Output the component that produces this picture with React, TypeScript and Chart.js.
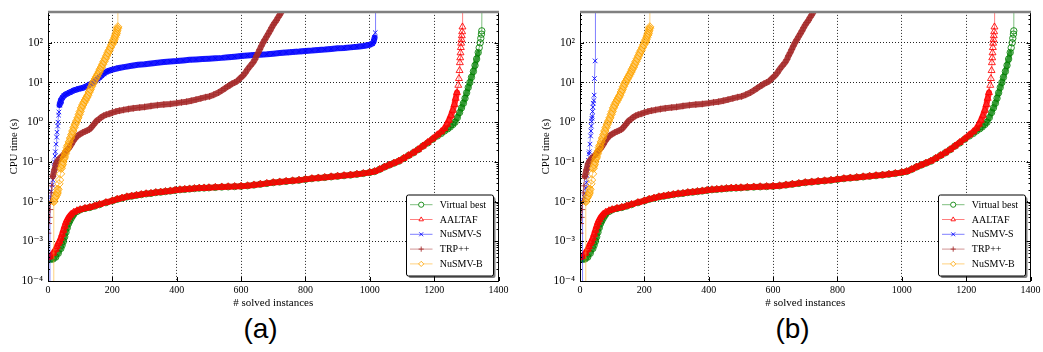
import React, { useEffect, useRef } from 'react';
import { Chart, registerables } from 'chart.js';

Chart.register(...registerables);

const SERIF = "'Liberation Serif', 'DejaVu Serif', 'Times New Roman', serif";

// ---------- tick definitions ----------
const X_TICK_VALUES = [0, 200, 400, 600, 800, 1000, 1200, 1400];
const X_TICK_LABELS = ['0', '200', '400', '600', '800', '1000', '1200', '1400'];
const Y_TICK_VALUES = [1e-4, 1e-3, 1e-2, 1e-1, 1, 10, 100];
const Y_TICK_LABELS = ['10⁻⁴', '10⁻³', '10⁻²', '10⁻¹', '10⁰', '10¹', '10²'];
const Y_MIN = 1e-4;
const Y_MAX = 600;

const SERIES_NAMES = ['Virtual best', 'AALTAF', 'NuSMV-S', 'TRP++', 'NuSMV-B'];

// ---------- data: x = # solved instances, y = CPU time (s) ----------
const VB_X = [0, 8, 16, 24, 32, 40, 44, 48, 52, 56, 60, 64, 68, 72, 76, 80, 90, 100, 115, 130, 145, 160, 180, 200, 215, 230, 245, 260, 275, 290, 305, 320, 335, 350, 365, 380, 395, 410, 425, 440, 455, 470, 485, 500, 520, 540, 560, 580, 600, 620, 640, 660, 680, 700, 720, 740, 760, 780, 800, 820, 840, 860, 880, 900, 920, 940, 960, 980, 1000, 1015, 1030, 1045, 1060, 1075, 1090, 1105, 1120, 1135, 1150, 1165, 1180, 1195, 1210, 1222, 1232, 1242, 1250, 1258, 1265, 1272, 1279, 1285, 1291, 1296, 1301, 1306, 1311, 1316, 1322, 1327, 1332, 1337, 1340, 1343, 1345, 1347, 1348, 1349];
const VB_Y = [3.5e-4, 3.5e-4, 3.6e-4, 4.0e-4, 5.0e-4, 6.6e-4, 8.0e-4, 1.0e-3, 1.3e-3, 1.7e-3, 2.2e-3, 2.8e-3, 3.3e-3, 3.8e-3, 4.3e-3, 4.8e-3, 5.6e-3, 6.2e-3, 6.7e-3, 7.1e-3, 7.7e-3, 8.4e-3, 9.4e-3, 0.0104, 0.0114, 0.0122, 0.0131, 0.0137, 0.0144, 0.015, 0.0157, 0.0161, 0.0169, 0.0173, 0.0179, 0.0185, 0.0192, 0.0199, 0.0203, 0.0208, 0.0213, 0.0218, 0.022, 0.0223, 0.0228, 0.0233, 0.0236, 0.0239, 0.0244, 0.025, 0.0262, 0.0274, 0.0287, 0.0301, 0.0312, 0.0323, 0.0334, 0.0346, 0.0362, 0.0379, 0.0393, 0.0406, 0.0421, 0.0436, 0.0451, 0.0467, 0.0489, 0.0512, 0.0542, 0.0574, 0.0645, 0.074, 0.083, 0.093, 0.104, 0.122, 0.144, 0.169, 0.203, 0.25, 0.30, 0.37, 0.45, 0.52, 0.60, 0.68, 0.76, 0.87, 1.0, 1.3, 1.75, 2.3, 3.0, 4.0, 5.5, 7.5, 10, 13.5, 19, 27, 39, 57, 75, 100, 130, 165, 200, 10000];

const AALTAF_X = [0, 8, 16, 24, 28, 32, 36, 40, 44, 48, 52, 56, 60, 64, 68, 72, 80, 90, 100, 115, 130, 145, 160, 180, 200, 215, 230, 245, 260, 275, 290, 305, 320, 335, 350, 365, 380, 395, 410, 425, 440, 455, 470, 485, 500, 520, 540, 560, 580, 600, 620, 640, 660, 680, 700, 720, 740, 760, 780, 800, 820, 840, 860, 880, 900, 920, 940, 960, 980, 1000, 1015, 1030, 1045, 1060, 1075, 1090, 1105, 1120, 1135, 1150, 1165, 1180, 1195, 1210, 1222, 1232, 1240, 1246, 1252, 1258, 1263, 1267, 1271, 1275, 1277, 1279, 1280, 1281, 1282, 1283, 1284, 1285, 1286, 1287, 1288, 1289];
const AALTAF_Y = [3.9e-4, 4.2e-4, 5.0e-4, 6.3e-4, 7.4e-4, 8.9e-4, 1.0e-3, 1.2e-3, 1.5e-3, 1.9e-3, 2.4e-3, 3.0e-3, 3.5e-3, 4.0e-3, 4.4e-3, 4.8e-3, 5.4e-3, 5.9e-3, 6.3e-3, 6.8e-3, 7.2e-3, 7.8e-3, 8.5e-3, 9.5e-3, 0.0105, 0.0115, 0.0123, 0.0132, 0.0138, 0.0145, 0.0151, 0.0158, 0.0162, 0.017, 0.0174, 0.018, 0.0186, 0.0193, 0.02, 0.0204, 0.0209, 0.0214, 0.0219, 0.0221, 0.0224, 0.0229, 0.0234, 0.0237, 0.024, 0.0245, 0.0251, 0.0263, 0.0275, 0.0288, 0.0302, 0.0313, 0.0324, 0.0335, 0.0347, 0.0363, 0.038, 0.0394, 0.0407, 0.0422, 0.0437, 0.0452, 0.0468, 0.049, 0.0513, 0.0543, 0.0575, 0.0646, 0.0741, 0.0832, 0.0933, 0.105, 0.123, 0.145, 0.17, 0.204, 0.251, 0.309, 0.38, 0.479, 0.575, 0.692, 0.891, 1.12, 1.45, 2.0, 2.8, 4.0, 5.6, 8.5, 12.6, 20, 31.6, 42, 56, 76, 98, 120, 151, 190, 251, 10000];

// NuSMV-S in panel (a)
const NUSMVS_A_X = [5, 6, 8, 10, 13, 15, 17, 19, 20, 22, 23, 25, 27, 28, 30, 31, 33, 34, 36, 38, 40, 45, 50, 55, 60, 67, 74, 80, 88, 95, 103, 110, 118, 125, 132, 140, 147, 154, 160, 167, 174, 180, 186, 191, 200, 220, 240, 260, 280, 300, 320, 340, 360, 380, 400, 420, 440, 460, 480, 500, 520, 540, 560, 580, 600, 620, 640, 660, 680, 700, 720, 740, 760, 780, 800, 820, 840, 860, 880, 900, 920, 940, 960, 980, 1000, 1008, 1012, 1015, 1017, 1018];
const NUSMVS_A_Y = [1e-6, 0.01, 0.013, 0.018, 0.026, 0.035, 0.05, 0.075, 0.1, 0.14, 0.18, 0.28, 0.42, 0.56, 0.8, 1.0, 1.5, 1.8, 2.7, 3.2, 3.55, 4.17, 4.68, 5.01, 5.25, 5.62, 5.96, 6.31, 6.61, 6.92, 7.16, 7.41, 7.94, 8.51, 9.12, 9.77, 11.0, 12.3, 13.5, 15.1, 16.8, 18.2, 19.3, 20.0, 21.1, 23.2, 24.8, 26.3, 27.9, 28.8, 30.2, 31.6, 32.7, 33.9, 34.7, 35.9, 37.2, 38.0, 38.9, 39.8, 40.7, 41.7, 43.2, 44.7, 46.2, 47.9, 49.0, 50.1, 51.3, 53.1, 55.0, 56.9, 58.9, 60.3, 62.4, 63.8, 66.1, 67.6, 70.0, 72.4, 74.1, 76.7, 79.4, 83.2, 89.1, 95.5, 107, 135, 180, 10000];

// NuSMV-S in panel (b)
const NUSMVS_B_X = [7, 8, 10, 13, 15, 18, 20, 22, 24, 26, 28, 29, 31, 33, 34, 35, 36, 37, 38, 39, 40, 41, 43, 44, 45, 47, 48];
const NUSMVS_B_Y = [1e-6, 0.01, 0.011, 0.013, 0.016, 0.022, 0.03, 0.045, 0.07, 0.11, 0.16, 0.18, 0.28, 0.45, 0.6, 0.8, 1.05, 1.25, 1.4, 1.86, 2.4, 3.0, 3.5, 4.8, 12.6, 35, 10000];

const TRP_X = [0, 2, 4, 6, 8, 10, 12, 15, 20, 25, 31, 40, 46, 55, 62, 67, 73, 78, 83, 88, 94, 100, 108, 115, 122, 129, 135, 140, 145, 150, 157, 165, 173, 181, 190, 200, 211, 222, 235, 250, 265, 285, 300, 320, 340, 360, 380, 400, 415, 430, 445, 460, 475, 490, 502, 515, 530, 540, 550, 558, 565, 572, 580, 587, 595, 600, 606, 613, 620, 628, 637, 643, 648, 653, 658, 663, 668, 674, 679, 685, 690, 695, 700, 705, 710, 715, 720, 725, 730];
const TRP_Y = [0.0016, 0.0028, 0.004, 0.0063, 0.01, 0.0166, 0.025, 0.043, 0.063, 0.089, 0.11, 0.132, 0.146, 0.178, 0.21, 0.234, 0.28, 0.33, 0.38, 0.42, 0.47, 0.5, 0.55, 0.58, 0.62, 0.66, 0.74, 0.83, 0.93, 1.06, 1.17, 1.32, 1.45, 1.55, 1.62, 1.74, 1.86, 1.95, 2.04, 2.14, 2.24, 2.34, 2.42, 2.57, 2.69, 2.79, 2.88, 3.02, 3.16, 3.28, 3.47, 3.72, 3.98, 4.27, 4.47, 4.9, 5.6, 6.3, 7.1, 7.9, 8.5, 9.3, 10.0, 10.7, 12.3, 13.5, 14.8, 17.4, 21.4, 25.7, 31.6, 38, 47, 56, 68, 83, 100, 120, 141, 170, 200, 240, 282, 324, 367, 437, 501, 589, 700];

const NUSMVB_X = [17, 18, 22, 25, 28, 31, 34, 36, 39, 41, 44, 46, 49, 51, 54, 57, 60, 62, 66, 70, 74, 77, 81, 85, 89, 93, 97, 100, 104, 108, 112, 116, 120, 124, 128, 131, 135, 139, 143, 147, 151, 155, 159, 162, 166, 170, 174, 178, 182, 186, 190, 194, 198, 202, 205, 208, 210, 212, 214, 216, 217, 218];
const NUSMVB_Y = [1e-6, 0.01, 0.0125, 0.0141, 0.0166, 0.0204, 0.028, 0.035, 0.05, 0.069, 0.085, 0.1, 0.12, 0.133, 0.16, 0.19, 0.23, 0.26, 0.32, 0.4, 0.49, 0.6, 0.74, 0.89, 1.07, 1.28, 1.58, 1.86, 2.3, 2.72, 3.16, 3.63, 4.17, 4.79, 5.75, 6.6, 7.9, 9.3, 10.7, 12.3, 14.1, 16.2, 18.6, 21.4, 24.5, 28.8, 33.9, 39.8, 47, 55.6, 64.6, 75.9, 89, 107, 120, 138, 155, 174, 200, 229, 251, 10000];

// ---------- helpers ----------
const toPoints = (xs: number[], ys: number[]) => xs.map((x, i) => ({ x, y: ys[i] }));

type Style = { rgb: string; marker: string; radius: number; band: number; bandAlpha: number };
const STYLES: Style[] = [
  { rgb: '0,128,0', marker: 'circle', radius: 3.2, band: 5, bandAlpha: 0.8 },
  { rgb: '255,0,0', marker: 'triangle', radius: 4, band: 6, bandAlpha: 0.85 },
  { rgb: '0,0,255', marker: 'crossRot', radius: 3.2, band: 6, bandAlpha: 0.9 },
  { rgb: '165,42,42', marker: 'cross', radius: 3.4, band: 6, bandAlpha: 0.9 },
  { rgb: '255,165,0', marker: 'rectRot', radius: 4.2, band: 7, bandAlpha: 0.6 },
];

function drawMarker(ctx: CanvasRenderingContext2D, style: string, x: number, y: number, r: number, color: string) {
  ctx.save();
  ctx.strokeStyle = color;
  ctx.fillStyle = '#fff';
  ctx.lineWidth = 1;
  ctx.beginPath();
  if (style === 'circle') {
    ctx.arc(x, y, r, 0, Math.PI * 2);
    ctx.fill();
    ctx.stroke();
  } else if (style === 'triangle') {
    ctx.moveTo(x, y - r);
    ctx.lineTo(x + r * 0.866, y + r * 0.5);
    ctx.lineTo(x - r * 0.866, y + r * 0.5);
    ctx.closePath();
    ctx.fill();
    ctx.stroke();
  } else if (style === 'rectRot') {
    ctx.moveTo(x, y - r);
    ctx.lineTo(x + r, y);
    ctx.lineTo(x, y + r);
    ctx.lineTo(x - r, y);
    ctx.closePath();
    ctx.fill();
    ctx.stroke();
  } else if (style === 'crossRot') {
    const d = r * 0.75;
    ctx.moveTo(x - d, y - d);
    ctx.lineTo(x + d, y + d);
    ctx.moveTo(x + d, y - d);
    ctx.lineTo(x - d, y + d);
    ctx.stroke();
  } else {
    ctx.moveTo(x - r, y);
    ctx.lineTo(x + r, y);
    ctx.moveTo(x, y - r);
    ctx.lineTo(x, y + r);
    ctx.stroke();
  }
  ctx.restore();
}

const framePlugin = {
  id: 'frameAndLegend',
  afterDraw(chart: any) {
    const { ctx, chartArea } = chart;
    const { left, right, top, bottom } = chartArea;
    const yScale = chart.scales.y;
    const xScale = chart.scales.x;
    ctx.save();
    ctx.strokeStyle = '#000';
    ctx.lineWidth = 1;
    ctx.beginPath();
    for (let e = -4; e <= 2; e++) {
      for (let k = 1; k <= 9; k++) {
        const v = k * Math.pow(10, e);
        if (v > Y_MAX) break;
        const py = Math.round(yScale.getPixelForValue(v)) + 0.5;
        const len = k === 1 ? 4 : 2;
        ctx.moveTo(left, py);
        ctx.lineTo(left + len, py);
        ctx.moveTo(right, py);
        ctx.lineTo(right - len, py);
      }
    }
    X_TICK_VALUES.forEach((v) => {
      const px = Math.round(xScale.getPixelForValue(v)) + 0.5;
      ctx.moveTo(px, bottom);
      ctx.lineTo(px, bottom - 4);
    });
    ctx.stroke();
    ctx.beginPath();
    ctx.strokeStyle = '#000';
    ctx.lineWidth = 1;
    ctx.moveTo(left + 0.5, top);
    ctx.lineTo(left + 0.5, bottom + 0.5);
    ctx.lineTo(right, bottom + 0.5);
    ctx.lineTo(right, top);
    ctx.stroke();
    ctx.beginPath();
    ctx.strokeStyle = '#808080';
    ctx.lineWidth = 2.5;
    ctx.moveTo(left, top);
    ctx.lineTo(right + 0.5, top);
    ctx.stroke();

    // legend box
    const w = 87;
    const h = 81;
    const x0 = right - 92;
    const y0 = bottom - 86;
    const rr = (x: number, y: number) => {
      ctx.beginPath();
      if ((ctx as any).roundRect) (ctx as any).roundRect(x, y, w, h, 2);
      else ctx.rect(x, y, w, h);
    };
    ctx.fillStyle = 'rgba(0,0,0,0.5)';
    rr(x0 + 2, y0 + 2);
    ctx.fill();
    ctx.fillStyle = '#fff';
    rr(x0, y0);
    ctx.fill();
    ctx.strokeStyle = '#000';
    ctx.lineWidth = 1;
    ctx.stroke();
    chart.data.datasets.forEach((ds: any, i: number) => {
      const st = STYLES[i];
      const cy = y0 + 9.7 + i * 14.8;
      ctx.beginPath();
      ctx.strokeStyle = `rgba(${st.rgb},0.5)`;
      ctx.lineWidth = 1;
      ctx.moveTo(x0 + 3.5, cy);
      ctx.lineTo(x0 + 26, cy);
      ctx.stroke();
      drawMarker(ctx, st.marker, x0 + 14.7, cy, 2.6, `rgba(${st.rgb},0.85)`);
      ctx.fillStyle = '#000';
      ctx.font = `10px ${SERIF}`;
      ctx.textBaseline = 'middle';
      ctx.textAlign = 'left';
      ctx.fillText(ds.label, x0 + 33.3, cy + 0.5);
    });
    ctx.restore();
  },
};

// dense runs of markers merge into a solid band: render short, non-vertical segments as a band
function isDense(c: any) {
  const dx = c.p1.x - c.p0.x;
  const dy = c.p1.y - c.p0.y;
  const len = Math.hypot(dx, dy);
  return len < 7.2 && Math.abs(dx) / (len || 1) > 0.2;
}

function makeDataset(i: number, xs: number[], ys: number[], allowBand = true) {
  const st = STYLES[i];
  const dense = (c: any) => allowBand && isDense(c);
  return {
    label: SERIES_NAMES[i],
    data: toPoints(xs, ys),
    borderColor: `rgba(${st.rgb},0.5)`,
    backgroundColor: `rgba(${st.rgb},0.5)`,
    borderWidth: 1,
    segment: {
      borderWidth: (c: any) => (dense(c) ? st.band : 1),
      borderColor: (c: any) => (dense(c) ? `rgba(${st.rgb},${st.bandAlpha})` : `rgba(${st.rgb},0.5)`),
    },
    borderCapStyle: 'round',
    borderJoinStyle: 'round',
    pointStyle: st.marker,
    pointRadius: st.radius,
    pointBorderWidth: 1,
    pointBorderColor: `rgba(${st.rgb},0.85)`,
    pointBackgroundColor: 'rgba(255,255,255,0)',
    pointHoverRadius: st.radius,
    tension: 0,
    fill: false,
    order: 5 - i,
  };
}

function buildConfig(sx: number[], sy: number[], sBand: boolean): any {
  return {
    type: 'line',
    data: {
      datasets: [
        makeDataset(0, VB_X, VB_Y),
        makeDataset(1, AALTAF_X, AALTAF_Y),
        makeDataset(2, sx, sy, sBand),
        makeDataset(3, TRP_X, TRP_Y),
        makeDataset(4, NUSMVB_X, NUSMVB_Y),
      ],
    },
    options: {
      responsive: false,
      animation: false,
      devicePixelRatio: 1,
      events: [],
      layout: { padding: { left: 0, right: 22.5, top: 5, bottom: 0 } },
      plugins: { legend: { display: false }, tooltip: { enabled: false }, title: { display: false } },
      scales: {
        x: {
          type: 'linear',
          min: 0,
          max: 1400,
          afterBuildTicks: (s: any) => {
            s.ticks = X_TICK_VALUES.map((v) => ({ value: v }));
          },
          afterFit: (s: any) => {
            s.height = 31;
          },
          ticks: {
            callback: (_v: any, idx: number) => X_TICK_LABELS[idx],
            font: { family: SERIF, size: 10 },
            color: '#000',
            padding: 3.5,
            maxRotation: 0,
            autoSkip: false,
          },
          grid: { color: 'rgba(0,0,0,0.85)', lineWidth: 1, drawTicks: false },
          border: { display: false, dash: [1, 2] },
          title: {
            display: true,
            text: '# solved instances',
            font: { family: SERIF, size: 11 },
            color: '#000',
            padding: { top: 0, bottom: 2 },
          },
        },
        y: {
          type: 'logarithmic',
          min: Y_MIN,
          max: Y_MAX,
          afterBuildTicks: (s: any) => {
            s.ticks = Y_TICK_VALUES.map((v) => ({ value: v }));
          },
          afterFit: (s: any) => {
            s.width = 48;
          },
          ticks: {
            callback: (_v: any, idx: number) => Y_TICK_LABELS[idx],
            font: { family: SERIF, size: 11.5 },
            color: '#000',
            padding: 5,
            autoSkip: false,
          },
          grid: { color: 'rgba(0,0,0,0.85)', lineWidth: 1, drawTicks: false },
          border: { display: false, dash: [1, 2] },
          title: {
            display: true,
            text: 'CPU time (s)',
            font: { family: SERIF, size: 10.5 },
            color: '#000',
            padding: { top: 7.5, bottom: 0 },
          },
        },
      },
    },
    plugins: [framePlugin],
  };
}

function Panel({ left, label, sx, sy, sBand }: { left: number; label: string; sx: number[]; sy: number[]; sBand: boolean }) {
  const ref = useRef<HTMLCanvasElement>(null);
  useEffect(() => {
    if (!ref.current) return;
    const chart = new Chart(ref.current, buildConfig(sx, sy, sBand));
    return () => chart.destroy();
  }, []);
  return (
    <div style={{ position: 'absolute', left, top: 0, width: 521, height: 352 }}>
      <canvas ref={ref} width={521} height={312} style={{ display: 'block', width: 521, height: 312 }} />
      <div
        style={{
          position: 'absolute',
          left: 0,
          top: 313,
          width: 521,
          textAlign: 'center',
          fontFamily: "'Liberation Sans', Arial, sans-serif",
          fontSize: 28,
          lineHeight: '32px',
          color: '#000',
        }}
      >
        {label}
      </div>
    </div>
  );
}

export default function App() {
  return (
    <div style={{ position: 'absolute', left: 0, top: 0, width: 1043, height: 352, background: '#fff', overflow: 'hidden' }}>
      <Panel left={0} label="(a)" sx={NUSMVS_A_X} sy={NUSMVS_A_Y} sBand={true} />
      <Panel left={532} label="(b)" sx={NUSMVS_B_X} sy={NUSMVS_B_Y} sBand={false} />
    </div>
  );
}
